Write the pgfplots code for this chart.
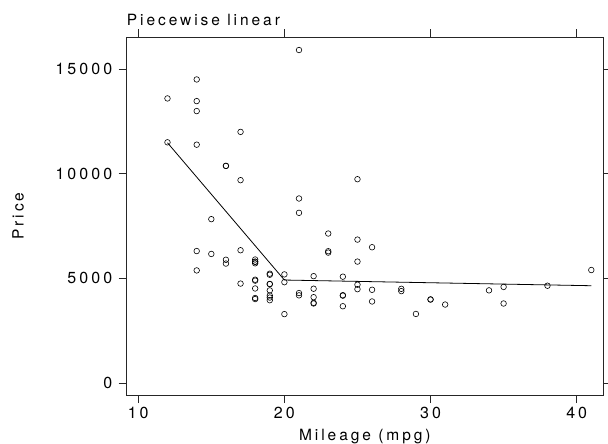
\documentclass[border=0pt]{standalone}
\usepackage{pgfplots}
\pgfplotsset{compat=1.18}
\usepackage{fontspec}
\setmainfont[LetterSpace=19]{TeX Gyre Heros}
\newcommand{\tl}[1]{\fontsize{16bp}{18bp}\selectfont #1}
\begin{document}
\begin{tikzpicture}
\useasboundingbox (-126.7bp,-49bp) rectangle (481.3bp,395bp);
\begin{axis}[
  at={(0,0)}, anchor=south west,
  scale only axis,
  width=476.3bp, height=357.7bp,
  xmin=9.21, xmax=41.8,
  ymin=-573, ymax=16514,
  xtick={10,20,30,40},
  xticklabels={\tl{10},\tl{20},\tl{30},\tl{40}},
  ytick={0,5000,10000,15000},
  yticklabels={\tl{0},\tl{5000},\tl{10000},\tl{15000}},
  scaled x ticks=false,
  scaled y ticks=false,
  tick align=outside,
  tick pos=both,
  xticklabel pos=lower,
  yticklabel pos=left,
  major tick length=8bp,
  axis line style={line width=0.8bp, black!85},
  every tick/.style={line width=0.8bp, black!85},
  font=\fontsize{15.5bp}{18bp}\selectfont,
  every tick label/.append style={font=\fontsize{16bp}{18bp}\selectfont},
  xticklabel style={anchor=north, yshift=-1bp},
  yticklabel style={anchor=east, xshift=-3bp},
  xlabel={Mileage (mpg)},
  ylabel={Price},
  xlabel style={at={(axis description cs:0.5,-0.126)}, anchor=base},
  ylabel style={at={(axis description cs:-0.228,0.5)}, anchor=center},
  clip=false,
]
\addplot[only marks, mark=o, mark size=2.8bp, mark options={line width=0.6bp, black}] table[row sep=\\] {
x y\\
22 4099\\ 17 4749\\ 22 3799\\ 20 4816\\ 15 7827\\ 18 5788\\ 26 4453\\ 20 5189\\
16 10372\\ 19 4082\\ 14 11385\\ 14 14500\\ 21 15906\\ 29 3299\\ 16 5705\\ 22 4504\\
22 5104\\ 24 3667\\ 19 3955\\ 30 3984\\ 18 4010\\ 16 5886\\ 17 6342\\ 28 4389\\
21 4187\\ 12 11497\\ 12 13594\\ 14 13466\\ 22 3829\\ 14 5379\\ 15 6165\\ 18 4516\\
14 6303\\ 20 3291\\ 21 8814\\ 19 5172\\ 19 4733\\ 18 4890\\ 19 4181\\ 24 4195\\
16 10371\\ 38 4647\\ 34 4425\\ 25 4482\\ 26 6486\\ 18 4060\\ 18 5798\\ 18 4934\\
19 5222\\ 19 4723\\ 19 4424\\ 24 4172\\ 17 9690\\ 23 6295\\ 25 9735\\ 23 6229\\
35 4589\\ 24 5079\\ 21 8129\\ 21 4296\\ 25 5799\\ 28 4499\\ 30 3995\\ 14 12990\\
26 3895\\ 35 3798\\ 18 5899\\ 31 3748\\ 18 5719\\ 23 7140\\ 41 5397\\ 25 4697\\
25 6850\\ 17 11995\\
};
\addplot[line width=0.8bp, black] coordinates {(12,11476) (20,4919) (41,4647)};
\node[anchor=base west, inner sep=0pt] at (rel axis cs:0,1) [yshift=12bp] {Piecewise linear};
\end{axis}
\end{tikzpicture}
\end{document}
